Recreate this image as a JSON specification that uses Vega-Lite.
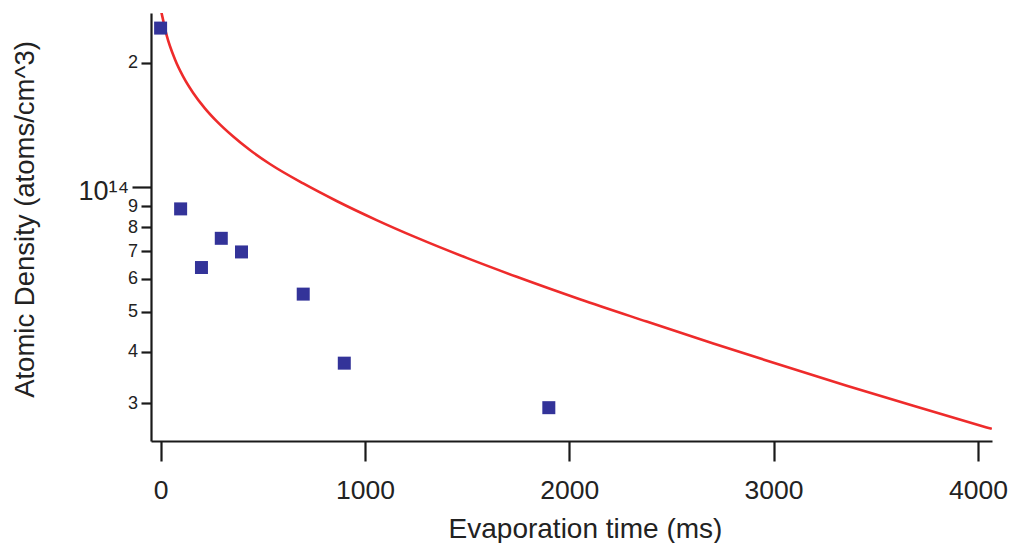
{
  "$schema": "https://vega.github.io/schema/vega-lite/v6.json",
  "width": 841,
  "height": 428,
  "autosize": {"type": "none"},
  "padding": {"left": 151, "top": 13, "right": 23, "bottom": 102},
  "background": "white",
  "config": {
    "view": {"stroke": null},
    "font": "Liberation Sans",
    "axis": {
      "domainColor": "#1a1a1a",
      "domainWidth": 2.2,
      "tickColor": "#1a1a1a",
      "tickWidth": 2.2,
      "grid": false,
      "labelColor": "#222222",
      "titleColor": "#222222",
      "labelFont": "Liberation Sans",
      "titleFont": "Liberation Sans",
      "titleFontWeight": "normal"
    }
  },
  "datasets": {
    "curve": [
      {"t": -4.9, "n": 2.779},
      {"t": 4.9, "n": 2.638},
      {"t": 29.4, "n": 2.334},
      {"t": 70, "n": 2.041},
      {"t": 110.6, "n": 1.852},
      {"t": 159.6, "n": 1.691},
      {"t": 216.8, "n": 1.552},
      {"t": 274.1, "n": 1.445},
      {"t": 355.4, "n": 1.326},
      {"t": 437.1, "n": 1.23},
      {"t": 535, "n": 1.138},
      {"t": 698, "n": 1.021},
      {"t": 861.5, "n": 0.926},
      {"t": 1057, "n": 0.8325},
      {"t": 1253, "n": 0.7548},
      {"t": 1498, "n": 0.6743},
      {"t": 1743, "n": 0.6069},
      {"t": 2052, "n": 0.5355},
      {"t": 2379, "n": 0.4729},
      {"t": 2705, "n": 0.4185},
      {"t": 3031, "n": 0.3715},
      {"t": 3358, "n": 0.3308},
      {"t": 3684, "n": 0.2956},
      {"t": 4010, "n": 0.265},
      {"t": 4068, "n": 0.26}
    ],
    "points": [
      {"t": 0, "n": 2.427},
      {"t": 98, "n": 0.886},
      {"t": 200, "n": 0.639},
      {"t": 297, "n": 0.752},
      {"t": 396, "n": 0.697},
      {"t": 698, "n": 0.551},
      {"t": 899, "n": 0.375},
      {"t": 1900, "n": 0.2926}
    ]
  },
  "layer": [
    {
      "data": {"name": "curve"},
      "mark": {"type": "line", "color": "#ee2b2b", "strokeWidth": 2.6, "clip": true, "interpolate": "monotone"},
      "encoding": {
        "x": {
          "field": "t", "type": "quantitative",
          "scale": {"domain": [-47, 4069], "nice": false, "zero": false},
          "axis": {
            "title": "Evaporation time (ms)",
            "values": [0, 1000, 2000, 3000, 4000],
            "format": "d",
            "tickSize": 20,
            "labelFontSize": 26.5,
            "labelBaseline": "alphabetic",
            "labelPadding": 37,
            "titleFontSize": 28,
            "titleX": 434,
            "titleY": 96,
            "titleAlign": "center",
            "titleBaseline": "alphabetic",
            "titleAnchor": "middle"
          }
        },
        "y": {
          "field": "n", "type": "quantitative",
          "scale": {"type": "log", "domain": [0.243, 2.64], "nice": false, "zero": false},
          "axis": {
            "title": "Atomic Density (atoms/cm^3)",
            "values": [0.3, 0.4, 0.5, 0.6, 0.7, 0.8, 0.9, 1, 2],
            "labelExpr": "datum.value == 1 ? '10¹⁴' : (datum.value >= 1 ? format(datum.value, 'd') : format(round(datum.value * 10), 'd'))",
            "labelOverlap": false,
            "tickSize": {"condition": {"test": "datum.value == 1", "value": 19}, "value": 10},
            "labelPadding": 3.5,
            "labelFontSize": {"condition": {"test": "datum.value == 1", "value": 27}, "value": 18},
            "labelOffset": {"condition": {"test": "datum.value == 1", "value": 4}, "value": 0},
            "labelBaseline": "middle",
            "titleFontSize": 27.5,
            "titleAngle": -90,
            "titleX": -118,
            "titleY": 206,
            "titleAlign": "center",
            "titleBaseline": "alphabetic"
          }
        }
      }
    },
    {
      "data": {"name": "points"},
      "mark": {"type": "point", "shape": "square", "filled": true, "size": 169, "color": "#333399", "opacity": 1},
      "encoding": {
        "x": {"field": "t", "type": "quantitative"},
        "y": {"field": "n", "type": "quantitative"}
      }
    }
  ]
}
